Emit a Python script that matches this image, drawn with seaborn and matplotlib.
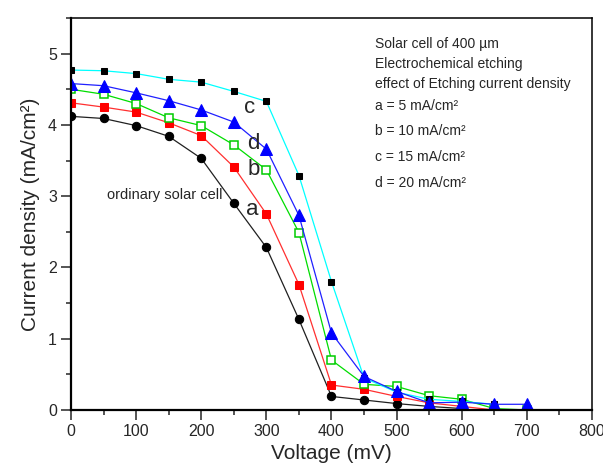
import numpy as np
import pandas as pd
import matplotlib
matplotlib.use("Agg")
import matplotlib.pyplot as plt
import seaborn as sns
from matplotlib.ticker import MultipleLocator

sns.set_style("ticks")
plt.rcParams["font.family"] = ["Liberation Sans Narrow", "Liberation Sans", "DejaVu Sans"]

# voltage in mV, current density in mA/cm^2
voltage = [0, 50, 100, 150, 200, 250, 300, 350, 400, 450, 500, 550, 600, 650, 700]
ordinary = [4.12, 4.09, 3.99, 3.84, 3.53, 2.90, 2.28, 1.27, 0.19, 0.14, 0.09, 0.05, 0.02]
curve_a = [4.31, 4.25, 4.18, 4.03, 3.85, 3.41, 2.75, 1.76, 0.35, 0.29, 0.19, 0.10, 0.05, 0.0]
curve_b = [4.50, 4.43, 4.30, 4.10, 3.99, 3.72, 3.37, 2.49, 0.70, 0.36, 0.33, 0.20, 0.15, 0.02, 0.0]
curve_c = [4.77, 4.76, 4.72, 4.64, 4.60, 4.47, 4.33, 3.29, 1.80, 0.45, 0.25, 0.15, 0.12, 0.08]
curve_d = [4.58, 4.55, 4.45, 4.34, 4.21, 4.04, 3.66, 2.73, 1.08, 0.47, 0.26, 0.10, 0.11, 0.08, 0.08]

info_lines = [
    "Solar cell of 400 \u00b5m",
    "Electrochemical etching",
    "effect of Etching current density",
]
legend_lines = [
    "a = 5 mA/cm\u00b2",
    "b = 10 mA/cm\u00b2",
    "c = 15 mA/cm\u00b2",
    "d = 20 mA/cm\u00b2",
]

fig = plt.figure(figsize=(6.03, 4.70), dpi=100)
ax = fig.add_axes([0.1177, 0.1277, 0.8641, 0.834])

series = [
    (ordinary, dict(color="#202020", marker="o", markersize=6,
                    markerfacecolor="black", markeredgecolor="black")),
    (curve_a, dict(color="#ff3030", marker="s", markersize=6,
                   markerfacecolor="#ff0000", markeredgecolor="#ff0000")),
    (curve_b, dict(color="#00dd00", marker="s", markersize=6,
                   markerfacecolor="white", markeredgecolor="#00cc00", markeredgewidth=1.1)),
    (curve_c, dict(color="#00ffff", marker="s", markersize=4.5,
                   markerfacecolor="black", markeredgecolor="black")),
    (curve_d, dict(color="#2020ff", marker="^", markersize=8,
                   markerfacecolor="#0000ff", markeredgecolor="#0000ff")),
]
for values, style in series:
    sns.lineplot(x=voltage[:len(values)], y=values, linewidth=0.9,
                 estimator=None, ax=ax, **style)

ax.set_xlim(0, 800)
ax.set_ylim(0, 5.5)
ax.xaxis.set_major_locator(MultipleLocator(100))
ax.xaxis.set_minor_locator(MultipleLocator(50))
ax.yaxis.set_major_locator(MultipleLocator(1))
ax.yaxis.set_minor_locator(MultipleLocator(0.5))
ax.tick_params(which="major", direction="out", length=7, width=1.1,
               labelsize=11.5, pad=3, top=False, right=False)
ax.tick_params(which="minor", direction="out", length=3.5, width=1.1,
               top=False, right=False)
for side in ["left", "bottom"]:
    ax.spines[side].set_linewidth(1.6)
for side in ["top", "right"]:
    ax.spines[side].set_linewidth(1.1)
for spine in ax.spines.values():
    spine.set_color("black")

ax.set_xlabel("Voltage (mV)", fontsize=15, labelpad=4)
ax.set_ylabel("Current density (mA/cm\u00b2)", fontsize=15, labelpad=6)

# text block at upper right
for i, line in enumerate(info_lines):
    ax.text(467, 5.14 - i * 0.28, line, fontsize=10, va="center", ha="left")
for i, line in enumerate(legend_lines):
    ax.text(467, 4.27 - i * 0.36, line, fontsize=10, va="center", ha="left")

# curve labels
ax.text(275, 4.24, "c", fontsize=16, ha="center", va="center")
ax.text(280, 3.74, "d", fontsize=16, ha="center", va="center")
ax.text(281, 3.38, "b", fontsize=16, ha="center", va="center")
ax.text(278, 2.82, "a", fontsize=16, ha="center", va="center")
ax.text(55, 3.01, "ordinary solar cell", fontsize=10.5, ha="left", va="center")

fig.savefig("out.png", dpi=100)
